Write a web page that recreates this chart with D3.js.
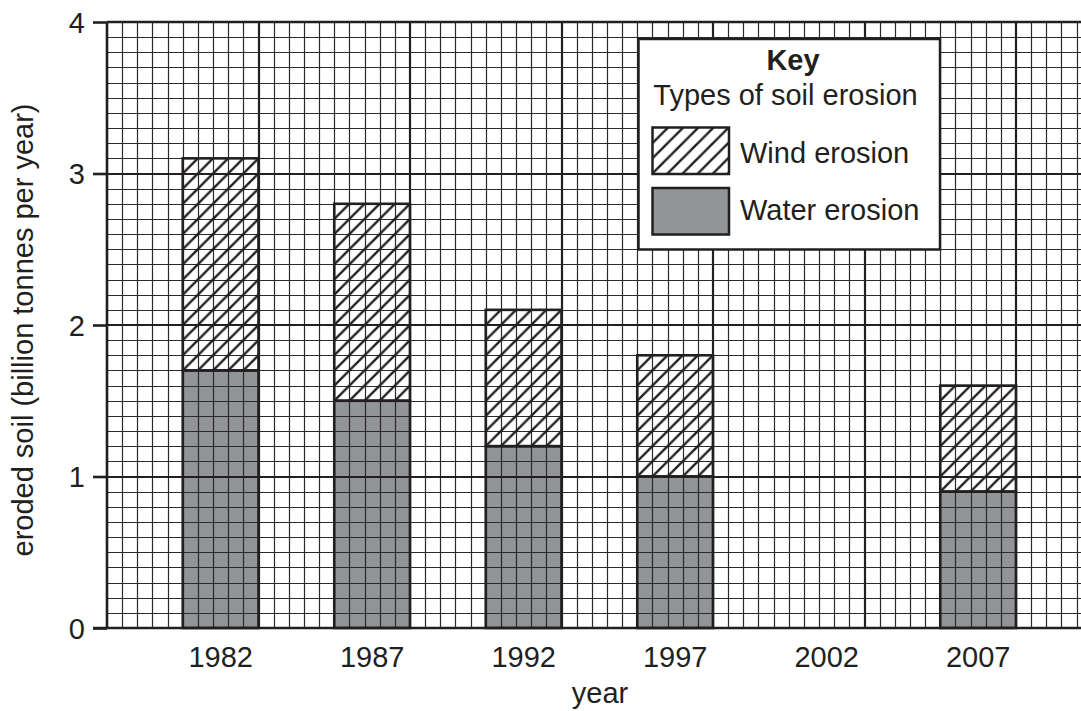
<!DOCTYPE html>
<html><head><meta charset="utf-8">
<script src="https://cdn.jsdelivr.net/npm/d3@7"></script>
<style>
html,body{margin:0;padding:0;background:#fff;}
text{font-family:"Liberation Sans",Arial,sans-serif;fill:#231f20;}
</style></head>
<body>
<svg id="chart" width="1081" height="711"></svg>
<script>
// ---- data ----
const years = ["1982","1987","1992","1997","2002","2007"];
const waterErosion = [1.7, 1.5, 1.2, 1.0, null, 0.9];
const windErosion  = [1.4, 1.3, 0.9, 0.8, null, 0.7];
const yTicks = [0, 1, 2, 3, 4];
const legendTitle = "Key";
const legendSubtitle = "Types of soil erosion";
const legendLabels = ["Wind erosion", "Water erosion"];
const xTitle = "year";
const yTitle = "eroded soil (billion tonnes per year)";

(function(){
// ---- layout ----
const pL = 107, pT = 22, pB = 628, pR = 1081;
const step = 151.5;
const fs = 29;
const svg = d3.select("#chart");

const y = d3.scaleLinear().domain([0, 4]).range([pB, pT]);
const x = d3.scaleBand().domain(years)
  .range([pL + step/4, pL + step/4 + 6*step])
  .paddingInner(0.5).paddingOuter(0.25);

const ink = "#231f20";
const waterFill = "#929497";

// pattern for wind erosion
const defs = svg.append("defs");
const cell = step/10;
const pat = defs.append("pattern").attr("id","hatch")
  .attr("patternUnits","userSpaceOnUse")
  .attr("x", pL).attr("y", pT)
  .attr("width", cell).attr("height", cell);
pat.append("path")
  .attr("d", `M${-cell*0.5},${cell*0.5} L${cell*0.5},${-cell*0.5} M0,${cell} L${cell},0 M${cell*0.5},${cell*1.5} L${cell*1.5},${cell*0.5}`)
  .attr("stroke", ink).attr("stroke-width", 2.4).attr("fill","none");

const data = years.map((yr,i)=>({yr, water: waterErosion[i], wind: windErosion[i]})).filter(d=>d.water!=null);

// water fill
svg.append("g").selectAll("rect").data(data).join("rect")
  .attr("x", d=>x(d.yr)).attr("width", x.bandwidth())
  .attr("y", d=>y(d.water)).attr("height", d=>y(0)-y(d.water))
  .attr("fill", waterFill);

// grid
const gx = d3.scaleLinear().domain([0, (pR-pL)/cell]).range([pL, pR]);
const grid = svg.append("g");
const nx = Math.floor((pR-pL)/cell);
d3.range(1, nx+1).forEach(k=>{
  const major = k % 10 === 0;
  const px = Math.round(gx(k)) + (major?0:0.5);
  grid.append("line").attr("x1",px).attr("x2",px).attr("y1",pT).attr("y2",pB)
    .attr("stroke", major? ink : "#2a2a2a").attr("stroke-width", major?2.2:1.2);
});
d3.range(1, 40).forEach(k=>{
  const v = k/10;
  const major = k % 10 === 0;
  const py = Math.round(y(v)) + (major?0:0.5);
  grid.append("line").attr("x1",pL).attr("x2",pR).attr("y1",py).attr("y2",py)
    .attr("stroke", major? ink : "#2a2a2a").attr("stroke-width", major?2.2:1.2);
});

// wind hatch
svg.append("g").selectAll("rect").data(data).join("rect")
  .attr("x", d=>x(d.yr)).attr("width", x.bandwidth())
  .attr("y", d=>y(d.water+d.wind)).attr("height", d=>y(d.water)-y(d.water+d.wind))
  .attr("fill", "url(#hatch)");

// outlines
const ol = svg.append("g").attr("fill","none").attr("stroke",ink).attr("stroke-width",2.6);
ol.selectAll(".w").data(data).join("rect").attr("class","w")
  .attr("x", d=>x(d.yr)).attr("width", x.bandwidth())
  .attr("y", d=>y(d.water)).attr("height", d=>y(0)-y(d.water));
ol.selectAll(".h").data(data).join("rect").attr("class","h")
  .attr("x", d=>x(d.yr)).attr("width", x.bandwidth())
  .attr("y", d=>y(d.water+d.wind)).attr("height", d=>y(d.water)-y(d.water+d.wind));

// frame
svg.append("line").attr("x1",pL).attr("x2",pR).attr("y1",pT).attr("y2",pT)
  .attr("stroke",ink).attr("stroke-width",2.5);

// y axis
const yAxis = d3.axisLeft(y).tickValues(yTicks).tickSize(14).tickPadding(8).tickFormat(d3.format("d"));
const ya = svg.append("g").attr("transform",`translate(${pL},0)`).call(yAxis);
ya.select(".domain").attr("stroke",ink).attr("stroke-width",2.6).attr("d",`M0,${pT}V${pB}`);
ya.selectAll(".tick line").attr("stroke",ink).attr("stroke-width",2.6);
ya.selectAll(".tick text").attr("font-size",fs).attr("font-family","Liberation Sans, Arial, sans-serif").attr("fill",ink).attr("dy","0.36em");

// x axis
const xAxis = d3.axisBottom(x).tickSize(0).tickPadding(18);
const xa = svg.append("g").attr("transform",`translate(0,${pB})`).call(xAxis);
xa.select(".domain").attr("stroke",ink).attr("stroke-width",2.6).attr("d",`M${pL-14},0H${pR}`);
xa.selectAll(".tick text").attr("font-size",fs).attr("font-family","Liberation Sans, Arial, sans-serif").attr("fill",ink);

// titles
svg.append("text").attr("x",600).attr("y",703).attr("text-anchor","middle").attr("font-size",fs).text(xTitle);
svg.append("text").attr("transform","translate(33,330) rotate(-90)").attr("text-anchor","middle").attr("font-size",fs).text(yTitle);

// legend
const lg = svg.append("g");
lg.append("rect").attr("x",638.5).attr("y",39).attr("width",301.5).attr("height",210.5)
  .attr("fill","#fff").attr("stroke",ink).attr("stroke-width",2.5);
lg.append("text").attr("x",793).attr("y",70).attr("text-anchor","middle").attr("font-size",fs).attr("font-weight","bold").text(legendTitle);
lg.append("text").attr("x",785.5).attr("y",105).attr("text-anchor","middle").attr("font-size",fs).text(legendSubtitle);
const swatchFills = ["url(#hatch)", waterFill];
const swatchY = [127.5, 188];
const labelY = [163, 220];
legendLabels.forEach((lab,i)=>{
  lg.append("rect").attr("x",652.5).attr("y",swatchY[i]).attr("width",76.5).attr("height",46.5)
    .attr("fill", i===0 ? "#fff" : waterFill).attr("stroke","none");
  lg.append("rect").attr("x",652.5).attr("y",swatchY[i]).attr("width",76.5).attr("height",46.5)
    .attr("fill", swatchFills[i]).attr("stroke",ink).attr("stroke-width",2.5);
  lg.append("text").attr("x",740).attr("y",labelY[i]).attr("font-size",fs).text(lab);
});
})();
</script>
</body></html>
